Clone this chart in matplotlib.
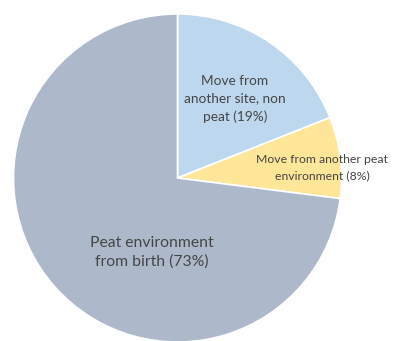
import matplotlib.pyplot as plt

labels = ["Move from\nanother site, non\npeat (19%)",
          "Move from another peat\nenvironment (8%)",
          "Peat environment\nfrom birth (73%)"]
shares = [19, 8, 73]
colors = ["#BDD7EE", "#FFE699", "#ADB9CA"]

fig = plt.figure(figsize=(3.94, 3.41), dpi=100)
ax = fig.add_axes([0, 0, 1, 1])

ax.pie(shares, colors=colors, startangle=90, counterclock=False,
       center=(177.5, 163), radius=164,
       wedgeprops=dict(edgecolor="white", linewidth=1.2), frame=True)
ax.set_xlim(0, 394)
ax.set_ylim(0, 341)
ax.set_aspect("equal")
ax.axis("off")

txt = dict(ha="center", va="center", color="#454545", family="Lato")
ax.text(235, 341 - 99, labels[0], fontsize=9.8, linespacing=1.55, **txt)
ax.text(322, 341 - 167.5, labels[1], fontsize=8.8, linespacing=1.6, **txt)
ax.text(152, 341 - 252.5, labels[2], fontsize=11.3, linespacing=1.4, **txt)

fig.savefig("out.png", dpi=100)
